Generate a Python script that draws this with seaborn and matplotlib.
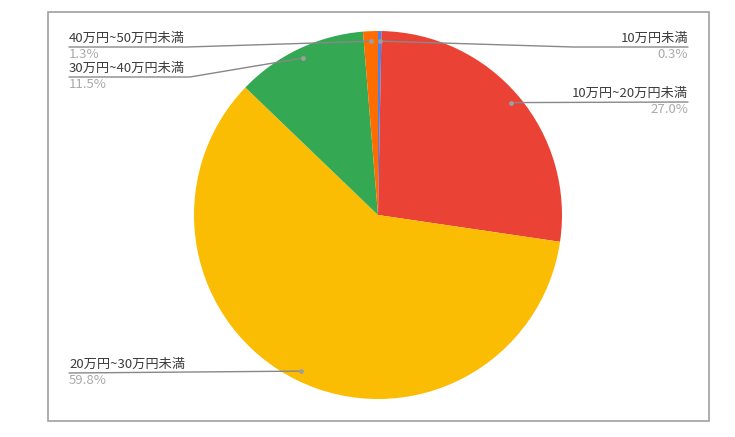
import numpy as np
import matplotlib.pyplot as plt
import seaborn as sns
from matplotlib.patches import Rectangle

categories = ['10万円未満', '10万円~20万円未満', '20万円~30万円未満', '30万円~40万円未満', '40万円~50万円未満']
shares = [0.3, 27.0, 59.8, 11.5, 1.3]
pct_labels = ['0.3%', '27.0%', '59.8%', '11.5%', '1.3%']
colors = ['#4285F4', '#EA4335', '#FBBC04', '#34A853', '#FF6D01']

sns.set_theme(style='white')
plt.rcParams['font.family'] = ['Noto Sans CJK JP', 'DejaVu Sans']

W, H = 735, 437
fig = plt.figure(figsize=(W / 100, H / 100), dpi=100)
ax = fig.add_axes([0, 0, 1, 1])

# pixel coords, y measured from top
def py(y):
    return H - y

cx, cy, r = 378, 215, 184
wedges, _ = ax.pie(shares, colors=colors, startangle=90, counterclock=False,
                   center=(cx, py(cy)), radius=r,
                   wedgeprops=dict(linewidth=0))

ax.set_xlim(0, W)
ax.set_ylim(0, H)
ax.set_aspect('equal', adjustable='box')
ax.axis('off')

ax.add_patch(Rectangle((48, py(421)), 661, 409, fill=False, edgecolor='#a0a0a0', lw=1.2))

# anchor dot for every slice, taken from the wedge angles
dots = []
for w in wedges:
    mid = np.deg2rad((w.theta1 + w.theta2) / 2)
    dots.append((cx + 0.945 * r * np.cos(mid), py(cy) + 0.945 * r * np.sin(mid)))

# (text x, line y, bend x, align)
layout = [
    (688, 47, 573, 'right'),
    (688, 102, None, 'right'),
    (69, 373, None, 'left'),
    (69, 77, 190, 'left'),
    (69, 47, 187, 'left'),
]

line_c = '#888888'
for (tx, ly, bx, ha), (dx, dy), cat, pct in zip(layout, dots, categories, pct_labels):
    if bx is None:
        xs = [tx, dx]
        ys = [py(ly), dy]
    else:
        xs = [tx, bx, dx]
        ys = [py(ly), py(ly), dy]
    ax.plot(xs, ys, color=line_c, lw=1)
    ax.plot(dx, dy, 'o', color='#9e9e9e', ms=3.5, mec='none')
    ax.text(tx, py(ly) + 2, cat, ha=ha, va='bottom', fontsize=9.5, color='#3c3c3c')
    ax.text(tx, py(ly) - 1, pct, ha=ha, va='top', fontsize=9.5, color='#aaaaaa')

fig.savefig('out.png', dpi=100)
